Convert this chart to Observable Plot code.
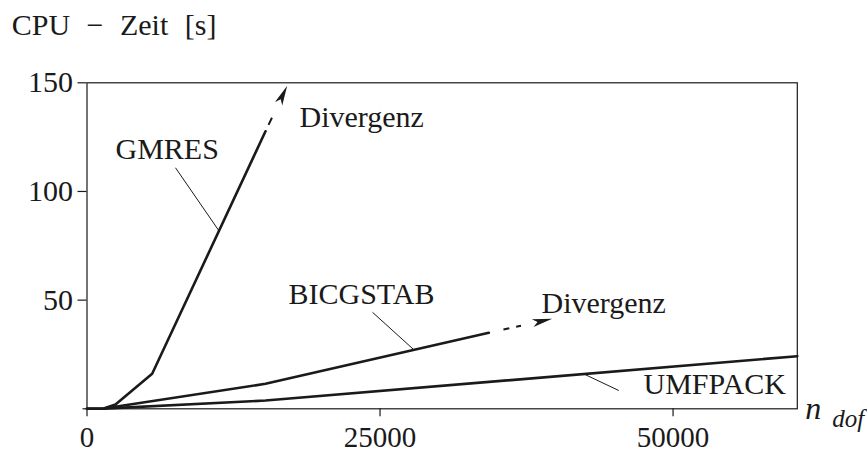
<!DOCTYPE html>
<html><head><meta charset="utf-8">
<script src="https://cdn.jsdelivr.net/npm/d3@7"></script>
<script src="https://cdn.jsdelivr.net/npm/@observablehq/plot@0.6"></script>
<style>
body{margin:0;background:#fff;}
#title{height:50px;line-height:50px;padding-left:11.7px;font-size:30px;font-family:"Liberation Serif","Times New Roman",serif;color:#1a1a1a;white-space:pre;word-spacing:9px;}
</style></head><body>
<div id="title">CPU − Zeit [s]</div>
<div id="chart"></div>
<script>
// ---- data (n_dof vs CPU time in s) ----
const gmresN = [0, 1430, 2430, 5560, 15230];
const gmresT = [0, 0.1, 2.0, 16.1, 127.7];
const bicgN  = [0, 1430, 15230, 34280];
const bicgT  = [0, 0.1, 11.5, 35.0];
const umfN   = [0, 1430, 15230, 60600];
const umfT   = [0, 0.1, 3.8, 24.2];
// divergence continuation (tip of dashed arrows) for GMRES and BICGSTAB
const divN = [17080, 39690];
const divT = [148.7, 41.4];
const xTicks = [0, 25000, 50000];
const yTicks = [50, 100, 150];
// labels
const labelText = ["GMRES", "BICGSTAB", "UMFPACK", "Divergenz", "Divergenz"];
const labelN = [2430, 17190, 47480, 18130, 38780];
const labelT = [115.0, 48.3, 7.0, 129.6, 44.3];
// leader lines label -> curve
const leadFromN = [7550, 24360, 45370];
const leadFromT = [110.9, 44.4, 8.4];
const leadToN = [11245, 27880, 42400];
const leadToT = [82.0, 27.2, 16.0];

const ink = "#1a1a1a";
const serif = '"Liberation Serif","Times New Roman",serif';
const W = 867, H = 403, mL = 86.5, mR = 70.2, mT = 32.3, mB = 44.7;
const xDomain = [0, 60600], yDomain = [0, 150];

const pts = (N, T) => N.map((n, i) => ({n, t: T[i]}));
const gmres = pts(gmresN, gmresT), bicg = pts(bicgN, bicgT), umf = pts(umfN, umfT);

// dashed continuations
const lastG = gmres[gmres.length - 1], lastB = bicg[bicg.length - 1];
const tips = [{n: divN[0], t: divT[0], from: lastG}, {n: divN[1], t: divT[1], from: lastB}];

// rotation of arrow heads computed through the same scale definitions
const sx = d3.scaleLinear(xDomain, [mL, W - mR]);
const sy = d3.scaleLinear(yDomain, [H - mB, mT]);
tips.forEach(d => {
  d.rot = Math.atan2(sx(d.n) - sx(d.from.n), sy(d.from.t) - sy(d.t)) * 180 / Math.PI;
});

const head = {draw(ctx) {ctx.moveTo(0, 0); ctx.lineTo(4, 20); ctx.lineTo(0, 15); ctx.lineTo(-4, 20); ctx.closePath();}};

const labels = labelText.map((s, i) => ({s, n: labelN[i], t: labelT[i]}));
const leaders = leadFromN.map((n, i) => ({n1: n, t1: leadFromT[i], n2: leadToN[i], t2: leadToT[i]}));

const chart = Plot.plot({
  width: W, height: H,
  marginLeft: mL, marginRight: mR, marginTop: mT, marginBottom: mB,
  style: {fontFamily: serif, fontSize: "30px", color: ink, background: "white", overflow: "visible"},
  x: {domain: xDomain, label: null},
  y: {domain: yDomain, label: null},
  marks: [
    Plot.frame({stroke: ink, strokeWidth: 1.2}),
    Plot.axisY({ticks: yTicks, tickSize: 9, tickPadding: 5, fontSize: 30, strokeWidth: 1.2, label: null, tickFormat: d => String(d)}),
    Plot.axisY({ticks: [0], tickSize: 4, label: null, tickFormat: () => "", strokeWidth: 1.2}),
    Plot.axisX({ticks: xTicks, tickSize: 8, tickPadding: 10, fontSize: 29, strokeWidth: 1.2, label: null, tickFormat: d => String(d)}),
    Plot.line(gmres, {x: "n", y: "t", stroke: ink, strokeWidth: 2.6, strokeLinejoin: "round"}),
    Plot.line(bicg, {x: "n", y: "t", stroke: ink, strokeWidth: 2.6, strokeLinejoin: "round"}),
    Plot.line(umf, {x: "n", y: "t", stroke: ink, strokeWidth: 2.6, strokeLinejoin: "round"}),
    Plot.link([tips[0]], {x1: d => d.from.n, y1: d => d.from.t, x2: "n", y2: "t", stroke: ink, strokeWidth: 2, strokeDasharray: "0 7 8 100"}),
    Plot.link([tips[1]], {x1: d => d.from.n, y1: d => d.from.t, x2: "n", y2: "t", stroke: ink, strokeWidth: 2, strokeDasharray: "0 15 6 7 5 100"}),
    Plot.dot(tips, {x: "n", y: "t", rotate: "rot", symbol: head, fill: ink, stroke: "none"}),
    Plot.link(leaders, {x1: "n1", y1: "t1", x2: "n2", y2: "t2", stroke: ink, strokeWidth: 1}),
    Plot.text(labels, {x: "n", y: "t", text: "s", textAnchor: "start", lineAnchor: "bottom", fontSize: 30, fill: ink}),
    Plot.text(["n"], {frameAnchor: "bottom-right", textAnchor: "start", lineAnchor: "bottom", dx: 8, dy: 10, fontSize: 32, fontStyle: "italic", fill: ink}),
    Plot.text(["dof"], {frameAnchor: "bottom-right", textAnchor: "start", lineAnchor: "bottom", dx: 35, dy: 18, fontSize: 25, fontStyle: "italic", fill: ink})
  ]
});
document.getElementById("chart").appendChild(chart);
</script>
</body></html>
